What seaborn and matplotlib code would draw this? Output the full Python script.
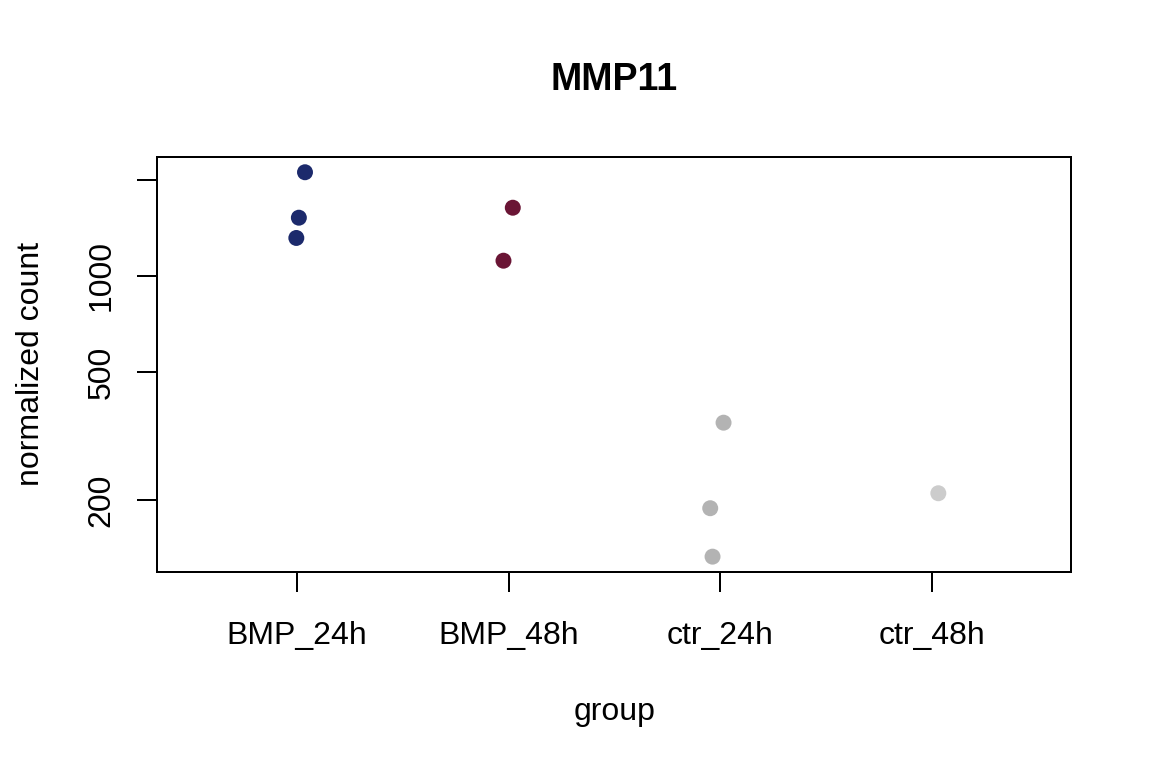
import matplotlib
matplotlib.use("Agg")
import matplotlib.pyplot as plt
import pandas as pd
import seaborn as sns
from matplotlib.ticker import FixedLocator, NullLocator

# values
groups = ["BMP_24h", "BMP_48h", "ctr_24h", "ctr_48h"]
group_colors = ["#1C2A6C", "#6A1535", "#B3B3B3", "#CCCCCC"]
sample_group = ["BMP_24h", "BMP_24h", "BMP_24h",
                "BMP_48h", "BMP_48h",
                "ctr_24h", "ctr_24h", "ctr_24h",
                "ctr_48h"]
counts = [2107, 1520, 1314, 1633, 1116, 348.5, 188.5, 133.1, 209.9]
jitter = [0.038, 0.009, -0.003, 0.020, -0.024, 0.016, -0.047, -0.036, 0.031]
ytick_values = [200, 500, 1000, 2000]
ytick_labels = ["200", "500", "1000", ""]

sns.set_theme(style="ticks")
plt.rcParams["font.family"] = ["Liberation Sans", "DejaVu Sans"]
plt.rcParams["text.color"] = "black"
plt.rcParams["axes.labelcolor"] = "black"


def main():
    df = pd.DataFrame({"group": sample_group, "count": counts,
                       "jitter": jitter})
    df["pos"] = df["group"].map({g: i for i, g in enumerate(groups)}) \
        + df["jitter"]

    fig = plt.figure(figsize=(11.52, 7.68), dpi=100)
    ax = fig.add_axes([157.3 / 1152, 1 - 572 / 768,
                       (1071 - 157.3) / 1152, (572 - 156.7) / 768])

    sns.scatterplot(data=df, x="pos", y="count", hue="group",
                    palette=dict(zip(groups, group_colors)), s=132,
                    linewidth=0, legend=False, ax=ax)

    ax.set_yscale("log")
    ax.set_ylim(119.2, 2356)
    ax.set_xlim(-0.66, 3.658)
    ax.set_xticks(range(len(groups)))
    ax.set_xticklabels(groups)
    ax.yaxis.set_major_locator(FixedLocator(ytick_values))
    ax.yaxis.set_minor_locator(NullLocator())
    ax.set_yticklabels(ytick_labels)

    ax.tick_params(axis="both", direction="out", length=14.4, width=1.44,
                   labelsize=23, colors="black")
    ax.tick_params(axis="x", pad=21)
    ax.tick_params(axis="y", pad=15, labelrotation=90)
    for lbl in ax.get_yticklabels():
        lbl.set_va("center")
    for sp in ax.spines.values():
        sp.set_visible(True)
        sp.set_color("black")
        sp.set_linewidth(1.44)

    ax.set_title("MMP11", fontsize=27, fontweight="bold", pad=48,
                 color="black")
    ax.set_xlabel("group", fontsize=23, labelpad=33, color="black")
    ax.set_ylabel("normalized count", fontsize=23, labelpad=29,
                  color="black")

    fig.savefig("out.png", dpi=100, facecolor="white")


if __name__ == "__main__":
    main()
